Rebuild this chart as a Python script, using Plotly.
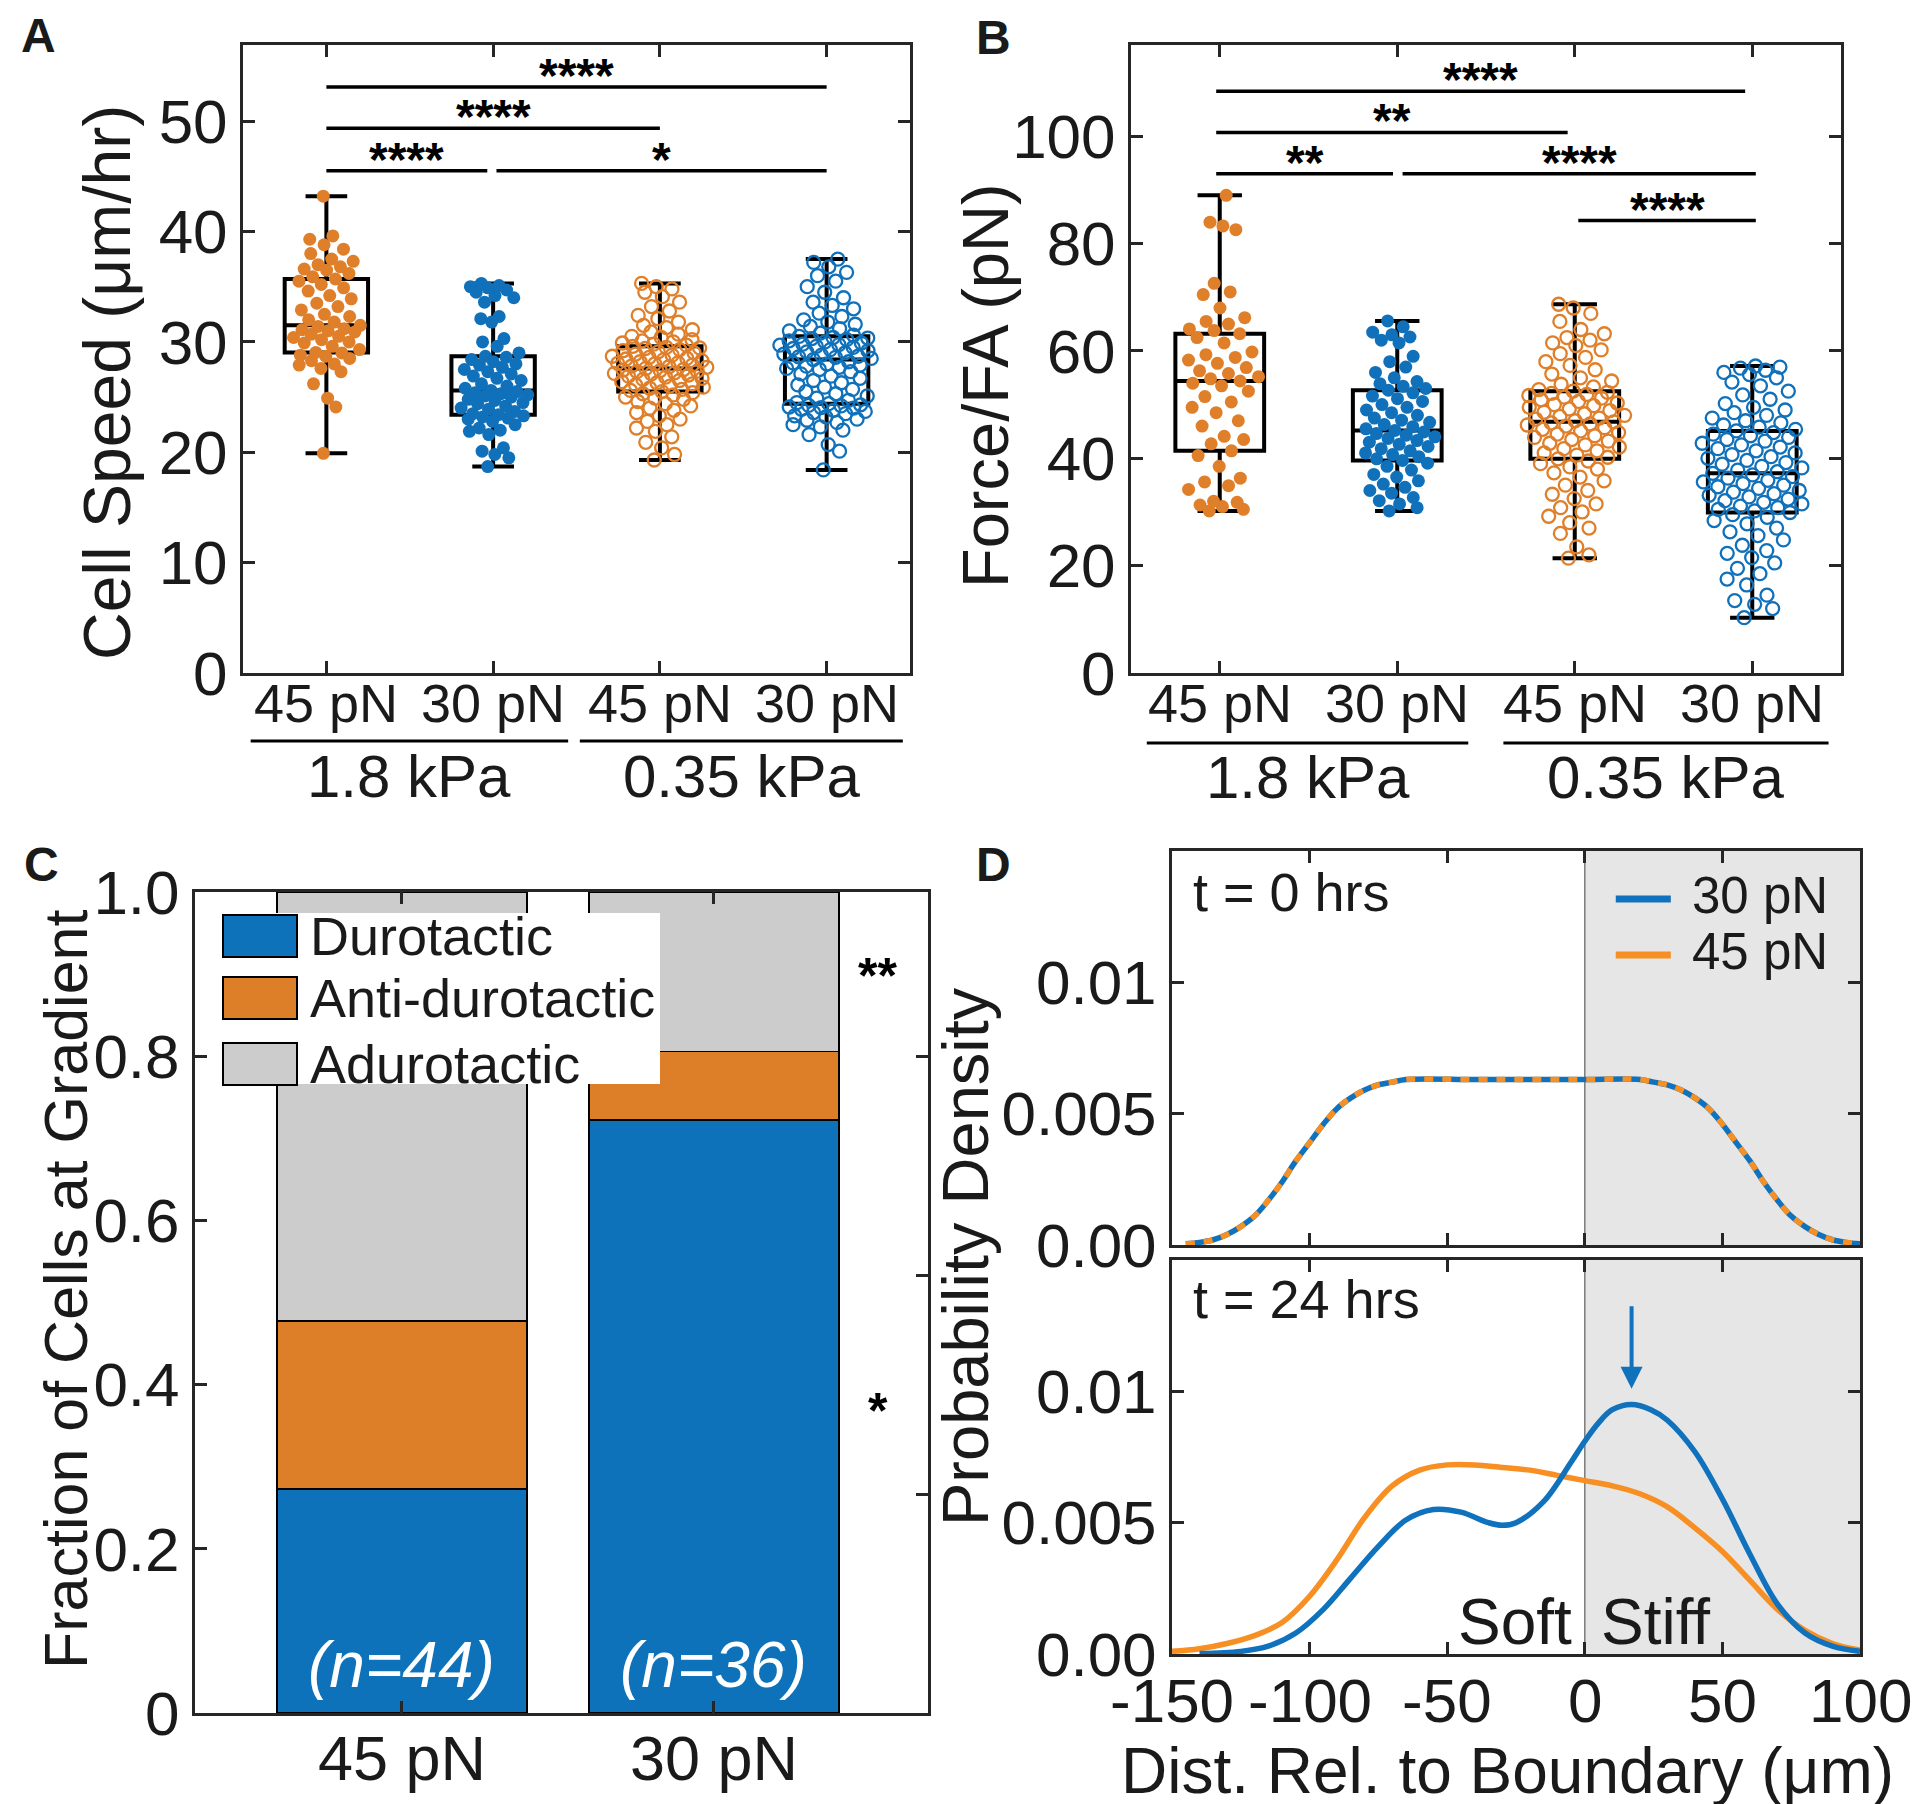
import numpy as np
import plotly.graph_objects as go

W, H = 1920, 1804
FONT = "Liberation Sans, Arial, Helvetica, sans-serif"
INK = "#1a1a1a"
FRAME = "#262626"
ORANGE = "#DF7F2A"
BLUE = "#1071BA"
LINE_ORANGE = "#F78F22"
LINE_BLUE = "#1072BD"
BAR_BLUE = "#0E72BA"
BAR_ORANGE = "#DD7F29"
BAR_GRAY = "#CCCCCC"
STIFF_BG = "#E6E6E6"

# ------------------------------------------------------------------ data
conditions = ["45 pN", "30 pN", "45 pN", "30 pN"]
substrates = ["1.8 kPa", "0.35 kPa"]
condition_colors = [ORANGE, BLUE, ORANGE, BLUE]
condition_filled = [True, True, False, False]

# Panel A: cell speed (um/hr)
speed_18_45 = [19.9, 24.1, 24.9, 26.2, 27.3, 27.6, 27.9, 28.0, 28.3, 28.5, 28.7, 28.8, 29.0, 29.05,
               29.3, 29.6, 29.9, 30.0, 30.2, 30.4, 30.5, 30.7, 30.9, 31.0, 31.1, 31.2, 31.4, 31.5,
               31.8, 32.0, 32.3, 32.5, 32.9, 33.2, 33.5, 33.9, 34.2, 34.6, 34.9, 35.2, 35.5, 35.7,
               35.9, 36.2, 36.5, 36.6, 36.8, 37.0, 37.3, 37.5, 38.0, 38.4, 38.8, 39.3, 39.6, 43.2]
speed_18_30 = [18.7, 19.5, 19.8, 20.1, 20.4, 21.6, 21.9, 22.0, 22.2, 22.5, 22.8, 23.0, 23.1, 23.2, 23.3, 23.4,
               23.5, 23.7, 23.9, 24.0, 24.2, 24.4, 24.5, 24.7, 24.8, 25.0, 25.1, 25.2, 25.3, 25.4, 25.5, 25.6,
               25.8, 26.0, 26.2, 26.5, 26.7, 26.9, 27.1, 27.3, 27.5, 27.7, 27.9, 28.0, 28.2, 28.4, 28.6, 28.7,
               29.0, 29.6, 30.0, 30.3, 31.8, 32.1, 32.3, 33.6, 34.0, 34.2, 34.5, 34.7, 34.9, 35.0, 35.1, 35.3]
speed_035_45 = [19.3, 19.8, 20.4, 20.9, 21.4, 21.9, 22.2, 22.5, 22.8, 23.0, 23.3, 23.6, 23.8, 24.0, 24.2, 24.4,
                24.6, 24.8, 24.9, 25.0, 25.2, 25.3, 25.4, 25.5,
                25.6, 25.7, 25.8, 25.9, 26.0, 26.1, 26.2, 26.3, 26.4, 26.5, 26.6, 26.7, 26.8, 26.9, 27.0, 27.1,
                27.15, 27.2, 27.3, 27.35, 27.4, 27.45, 27.5, 27.6,
                27.7, 27.75, 27.8, 27.9, 28.0, 28.05, 28.1, 28.2, 28.3, 28.4, 28.45, 28.5, 28.6, 28.7, 28.8, 28.9,
                29.0, 29.1, 29.2, 29.3, 29.4, 29.45, 29.5, 29.6,
                29.7, 29.8, 29.9, 30.0, 30.1, 30.2, 30.4, 30.5, 30.7, 30.9, 31.1, 31.3, 31.5, 31.8, 32.1, 32.4,
                32.8, 33.2, 33.6, 34.1, 34.5, 34.8, 35.0, 35.3]
speed_035_30 = [18.4, 20.1, 20.7, 21.6, 22.0, 22.3, 22.5, 22.7, 22.9, 23.0, 23.2, 23.3, 23.5, 23.6, 23.7, 23.8,
                23.9, 24.0, 24.05, 24.1, 24.2, 24.25, 24.3, 24.4,
                24.5, 24.7, 24.9, 25.1, 25.3, 25.5, 25.7, 25.9, 26.1, 26.3, 26.5, 26.7, 26.9, 27.1, 27.3, 27.5,
                27.6, 27.7, 27.8, 27.9, 28.0, 28.1, 28.2, 28.4,
                28.5, 28.6, 28.65, 28.7, 28.8, 28.9, 29.0, 29.1, 29.2, 29.3, 29.4, 29.5, 29.6, 29.7, 29.75, 29.8,
                29.9, 30.0, 30.1, 30.2, 30.3, 30.35, 30.4, 30.5,
                30.6, 30.8, 31.0, 31.2, 31.4, 31.6, 31.8, 32.0, 32.3, 32.6, 33.0, 33.3, 33.6, 34.0, 34.5, 35.0,
                35.5, 36.0, 36.3, 36.8, 37.2, 37.5]
speed_q1 = [29.05, 23.4, 25.5, 24.4]
speed_median = [31.5, 25.6, 27.6, 28.4]
speed_q3 = [35.7, 28.7, 29.6, 30.5]
speed_min = [19.9, 18.7, 19.3, 18.4]
speed_max = [43.2, 35.3, 35.3, 37.5]
speed_sig = [(1, 4, 53.1, "****"), (1, 3, 49.35, "****"), (1, 1.965, 45.5, "****"), (2.02, 4, 45.5, "*")]

# Panel B: force per focal adhesion (pN)
force_18_45 = [30.2, 30.5, 31.0, 31.3, 31.8, 32.0, 34.2, 34.9, 35.6, 36.3, 38.5, 40.5, 41.4,
               42.7, 43.5, 44.1, 46.0, 47.0, 48.5, 49.5, 50.5, 51.5, 52.5, 53.5, 54.0, 54.4,
               54.8, 55.2, 55.8, 56.3, 56.9, 57.7, 58.3, 58.8, 59.3, 59.8, 61.5, 62.5, 63.2,
               63.8, 64.1, 65.0, 65.5, 66.2, 68.0, 70.5, 71.0, 72.6, 82.6, 83.3, 84.0, 89.0]
force_18_30 = [30.2, 30.8, 31.5, 32.1, 32.7, 33.5, 34.0, 34.6, 35.2, 35.8, 36.5, 37.0, 37.8, 38.5, 39.1, 39.6,
               39.9, 40.3, 40.7, 41.0, 41.4, 41.8, 42.2, 42.6, 43.0, 43.3, 43.7, 44.0, 44.3, 44.6, 44.9, 45.2,
               45.5, 45.9, 46.3, 46.7, 47.1, 47.5, 48.0, 48.5, 49.0, 49.5, 50.0, 50.6, 51.1, 51.6, 52.2, 52.7,
               53.0, 53.4, 53.9, 54.3, 55.0, 56.0, 57.0, 58.0, 59.0, 61.5, 62.0, 62.6, 63.0, 63.5, 64.5, 65.6]
force_035_45 = [21.4, 22.0, 23.5, 26.0, 27.0, 28.0, 29.2, 30.0, 30.8, 31.5, 32.5, 33.3, 34.0, 35.0, 35.8, 36.5,
                37.3, 38.0, 38.4, 39.0, 39.5, 39.9,
                40.2, 40.6, 41.0, 41.4, 41.8, 42.1, 42.5, 42.8, 43.2, 43.5, 43.9, 44.2, 44.5, 44.8, 45.1, 45.4,
                45.7, 46.0, 46.2, 46.4, 46.6, 46.8,
                47.0, 47.3, 47.5, 47.8, 48.0, 48.3, 48.6, 48.9, 49.2, 49.5, 49.8, 50.0, 50.3, 50.6, 50.9, 51.2,
                51.4, 51.7, 51.9, 52.1, 52.3, 52.5,
                52.8, 53.3, 53.8, 54.4, 55.0, 55.7, 56.5, 57.3, 58.0, 58.8, 59.5, 60.2, 61.0, 61.5, 62.0, 62.5,
                63.2, 64.0, 65.5, 67.0, 68.0, 68.7]
force_035_30 = [10.3, 12.0, 12.8, 13.5, 14.5, 16.4, 17.5, 18.5, 19.5, 20.5, 21.5, 22.3, 22.8, 23.8, 24.8, 25.6,
                26.3, 27.0, 27.8, 28.4, 29.0, 29.5, 29.9,
                30.2, 30.5, 30.8, 31.1, 31.5, 31.8, 32.1, 32.4, 32.8, 33.1, 33.4, 33.7, 34.0, 34.4, 34.7, 35.0,
                35.3, 35.6, 35.9, 36.3, 36.6, 36.9, 37.2,
                37.5, 37.8, 38.2, 38.5, 38.9, 39.2, 39.6, 40.0, 40.3, 40.7, 41.0, 41.4, 41.8, 42.1, 42.5, 42.8,
                43.2, 43.5, 43.9, 44.2, 44.5, 44.8, 45.1,
                45.4, 45.8, 46.2, 46.6, 47.0, 47.5, 48.0, 48.5, 49.0, 49.5, 50.2, 51.0, 51.8, 52.5, 53.5, 54.2,
                55.0, 55.6, 56.0, 56.4, 56.8, 57.0, 57.2]
force_q1 = [41.4, 39.6, 39.9, 29.9]
force_median = [54.4, 45.2, 46.8, 37.2]
force_q3 = [63.2, 52.7, 52.5, 45.1]
force_min = [30.2, 30.2, 21.4, 10.3]
force_max = [89.0, 65.6, 68.7, 57.2]
force_sig = [(0.98, 3.96, 108.4, "****"), (0.98, 2.96, 100.7, "**"), (0.98, 1.976, 93.0, "**"),
             (2.03, 4.02, 93.0, "****"), (3.02, 4.02, 84.3, "****")]

# Panel C: migration phenotype at the gradient
gradient_groups = ["45 pN", "30 pN"]
n_cells = [44, 36]
durotactic_counts = [12, 26]
antidurotactic_counts = [9, 3]
adurotactic_counts = [23, 7]
phenotype_sig = [("**", 0.91), ("*", 0.38)]

# Panel D: probability density of cell position
dist_t0 = [-145, -140, -135, -130, -125, -120, -115, -110, -105, -100, -95, -90, -85, -80, -75, -70, -65,
           -40, -20, 0, 20, 25, 30, 35, 40, 45, 50, 55, 60, 65, 70, 75, 80, 85, 90, 95, 100]
dens_t0 = [0.00005, 0.0001, 0.0002, 0.0004, 0.0007, 0.0011, 0.0017, 0.0024, 0.0032, 0.0039, 0.0046, 0.0052,
           0.0056, 0.0059, 0.0061, 0.0062, 0.0063, 0.0063, 0.0063, 0.0063, 0.0063, 0.0062, 0.0061, 0.0059,
           0.0056, 0.0052, 0.0046, 0.0039, 0.0032, 0.0024, 0.0017, 0.0011, 0.0007, 0.0004, 0.0002, 0.0001,
           0.00005]
dist_30_t24 = [-140, -125, -115, -105, -95, -85, -75, -65, -55, -45, -35, -30, -25, -15, -5, 0, 5, 10, 17,
               24, 30, 40, 50, 60, 70, 80, 90, 100]
dens_30_t24 = [0.00002, 0.0001, 0.0003, 0.0008, 0.0017, 0.0029, 0.0041, 0.0051, 0.0055, 0.0054, 0.0050,
               0.0049, 0.0050, 0.0058, 0.0073, 0.0081, 0.0088, 0.0093, 0.0095, 0.0093, 0.0089, 0.0077,
               0.0059, 0.0038, 0.0019, 0.0008, 0.0003, 0.0001]
dist_45_t24 = [-150, -140, -130, -120, -110, -100, -90, -80, -70, -60, -50, -40, -30, -20, -10, 0, 10, 20,
               30, 40, 50, 60, 70, 80, 90, 100]
dens_45_t24 = [0.0001, 0.0002, 0.0004, 0.0007, 0.0012, 0.0022, 0.0036, 0.0052, 0.0064, 0.0070, 0.0072,
               0.0072, 0.0071, 0.0070, 0.0068, 0.0066, 0.0064, 0.0061, 0.0056, 0.0048, 0.0039, 0.0028,
               0.0017, 0.0009, 0.0004, 0.00015]
stiff_region = [0, 100]
dist_ticks = [-150, -100, -50, 0, 50, 100]


# ------------------------------------------------------------------ helpers
def fx(p):
    return p / W


def fy(p):
    return 1 - p / H


def jitter(vals, amp):
    v = np.asarray(vals, float)
    n = len(v)
    w = (v.max() - v.min()) / 12.0
    dens = np.array([np.sum(np.abs(v - vi) < w) for vi in v], float)
    dens = dens / dens.max()
    u = ((np.arange(n) * 0.6180339887 + 0.31) % 1.0) * 2 - 1
    return amp * np.sqrt(dens) * u


NUM_FONT = dict(family=FONT, size=62, color=INK)


def frame_axis(**kw):
    d = dict(showline=True, linecolor=FRAME, linewidth=3, mirror="ticks", ticks="inside",
             ticklen=12, tickwidth=2.5, tickcolor=FRAME, showgrid=False, zeroline=False,
             tickfont=NUM_FONT, fixedrange=True, automargin=False)
    d.update(kw)
    return d


fig = go.Figure()
annotations = []
shapes = []


def x_labels(xa, vals, texts, ycenter, size):
    # x tick labels drawn as text, placed as close to the frame as in the reference
    for v, t in zip(vals, texts):
        annotations.append(dict(x=v, y=fy(ycenter), xref=xa, yref="paper", text=t, showarrow=False,
                                xanchor="center", yanchor="middle",
                                font=dict(family=FONT, size=size, color=INK)))


def box_panel(xa, ya, sets, q1, med, q3, lo, hi, sig):
    for i, vals in enumerate(sets):
        pos = i + 1
        filled = condition_filled[i]
        amp = 0.22 if filled else 0.30
        xs = pos + jitter(vals, amp)
        if filled:
            mk = dict(symbol="circle", size=13, color=condition_colors[i], line=dict(width=0))
        else:
            mk = dict(symbol="circle-open", size=13, color=condition_colors[i], line=dict(width=2.3))
        fig.add_trace(go.Scatter(x=xs, y=vals, mode="markers", marker=mk, xaxis=xa, yaxis=ya,
                                 showlegend=False, hoverinfo="y"))
    for i in range(len(sets)):
        fig.add_trace(go.Box(x=[i + 1], q1=[q1[i]], median=[med[i]], q3=[q3[i]],
                             lowerfence=[lo[i]], upperfence=[hi[i]], width=0.5, whiskerwidth=0.5,
                             line=dict(color="black", width=4), fillcolor="rgba(0,0,0,0)",
                             boxpoints=False, xaxis=xa, yaxis=ya, showlegend=False))
    for x0, x1, h, lab in sig:
        shapes.append(dict(type="line", xref=xa, yref=ya, x0=x0, x1=x1, y0=h, y1=h,
                           line=dict(color="black", width=3.5)))
        annotations.append(dict(x=(x0 + x1) / 2, y=h, xref=xa, yref=ya, text=f"<b>{lab}</b>", showarrow=False,
                                yanchor="bottom", yshift=-17,
                                font=dict(family=FONT, size=48, color="black")))
    x_labels(xa, [1, 2, 3, 4], conditions, 695, 54)


# ------------------------------------------------------------------ Panel A
box_panel("x", "y", [speed_18_45, speed_18_30, speed_035_45, speed_035_30],
          speed_q1, speed_median, speed_q3, speed_min, speed_max, speed_sig)
# ------------------------------------------------------------------ Panel B
box_panel("x2", "y2", [force_18_45, force_18_30, force_035_45, force_035_30],
          force_q1, force_median, force_q3, force_min, force_max, force_sig)

# substrate group labels under A and B
for xa, spans, ytop in [("x", [(0.546, 2.45), (2.52, 4.457)], 733),
                        ("x2", [(0.589, 2.40), (2.598, 4.43)], 735)]:
    for (a, b), lab in zip(spans, substrates):
        shapes.append(dict(type="line", xref=xa, yref="paper", x0=a, x1=b, y0=fy(ytop), y1=fy(ytop),
                           line=dict(color="black", width=3)))
        annotations.append(dict(x=(a + b) / 2, y=fy(ytop + 35), xref=xa, yref="paper", text=lab,
                                showarrow=False, yanchor="middle",
                                font=dict(family=FONT, size=60, color=INK)))

# ------------------------------------------------------------------ Panel C
n_arr = np.array(n_cells, float)
for counts, col, name in [(durotactic_counts, BAR_BLUE, "Durotactic"),
                          (antidurotactic_counts, BAR_ORANGE, "Anti-durotactic"),
                          (adurotactic_counts, BAR_GRAY, "Adurotactic")]:
    fig.add_trace(go.Bar(x=[1, 2], y=np.array(counts) / n_arr, width=0.8, name=name,
                         marker=dict(color=col, line=dict(color="black", width=1.6)),
                         xaxis="x3", yaxis="y3", showlegend=False))
# invisible trace carrying the right-hand tick axis
fig.add_trace(go.Scatter(x=[1], y=[0.5], mode="markers", marker=dict(opacity=0), xaxis="x3", yaxis="y6",
                         showlegend=False, hoverinfo="skip"))
for i, n in enumerate(n_cells):
    annotations.append(dict(x=i + 1, y=0.058, xref="x3", yref="y3", text=f"<i>(n={n})</i>",
                            showarrow=False, font=dict(family=FONT, size=64, color="white")))
for lab, yv in phenotype_sig:
    annotations.append(dict(x=2.525, y=yv, xref="x3", yref="y3", text=f"<b>{lab}</b>", showarrow=False,
                            yanchor="middle", yshift=-10, font=dict(family=FONT, size=50, color="black")))
x_labels("x3", [1, 2], gradient_groups, 1750, 63)
# legend (drawn)
shapes.append(dict(type="rect", xref="paper", yref="paper", x0=fx(212), x1=fx(652), y0=fy(1076), y1=fy(905),
                   fillcolor="white", line=dict(width=0), layer="above"))
for (top, bot), col, lab in [((907, 949), BAR_BLUE, "Durotactic"),
                             ((969, 1011), BAR_ORANGE, "Anti-durotactic"),
                             ((1035, 1077), BAR_GRAY, "Adurotactic")]:
    shapes.append(dict(type="rect", xref="paper", yref="paper", x0=fx(215), x1=fx(289), y0=fy(bot), y1=fy(top),
                       fillcolor=col, line=dict(color="black", width=2), layer="above"))
    annotations.append(dict(x=fx(300), y=fy((top + bot) / 2), xref="paper", yref="paper", text=lab,
                            showarrow=False, xanchor="left", yanchor="middle",
                            font=dict(family=FONT, size=54, color=INK)))

# ------------------------------------------------------------------ Panel D
for ya_ref in ["y4", "y5"]:
    xa_ref = "x4" if ya_ref == "y4" else "x5"
    shapes.append(dict(type="rect", xref=xa_ref, yref=ya_ref, x0=stiff_region[0], x1=stiff_region[1],
                       y0=0, y1=0.015, fillcolor=STIFF_BG, line=dict(width=0), layer="below"))
    shapes.append(dict(type="line", xref=xa_ref, yref=ya_ref, x0=stiff_region[0], x1=stiff_region[0],
                       y0=0, y1=0.015, line=dict(color="#7a7a7a", width=1.5), layer="below"))

fig.add_trace(go.Scatter(x=dist_t0, y=dens_t0, mode="lines", line=dict(color=LINE_BLUE, width=5.5, shape="spline"),
                         xaxis="x4", yaxis="y4", showlegend=False))
fig.add_trace(go.Scatter(x=dist_t0, y=dens_t0, mode="lines",
                         line=dict(color=LINE_ORANGE, width=5.5, shape="spline", dash="9px,9px"),
                         xaxis="x4", yaxis="y4", showlegend=False))
fig.add_trace(go.Scatter(x=dist_45_t24, y=dens_45_t24, mode="lines",
                         line=dict(color=LINE_ORANGE, width=5.5, shape="spline"),
                         xaxis="x5", yaxis="y5", showlegend=False))
fig.add_trace(go.Scatter(x=dist_30_t24, y=dens_30_t24, mode="lines",
                         line=dict(color=LINE_BLUE, width=5.5, shape="spline"),
                         xaxis="x5", yaxis="y5", showlegend=False))
x_labels("x5", dist_ticks, [str(t) for t in dist_ticks], 1692, 62)

peak_i = int(np.argmax(dens_30_t24))
annotations.append(dict(x=dist_30_t24[peak_i], y=dens_30_t24[peak_i] + 0.0006, ax=dist_30_t24[peak_i],
                        ay=dens_30_t24[peak_i] + 0.0038, xref="x5", yref="y5", axref="x5", ayref="y5",
                        text="", showarrow=True, arrowhead=2, arrowsize=1.1, arrowwidth=4,
                        arrowcolor=LINE_BLUE))
annotations.append(dict(x=-4, y=0, xref="x5", yref="y5", text="Soft", showarrow=False, xanchor="right",
                        yanchor="bottom", yshift=-6, font=dict(family=FONT, size=64, color=INK)))
annotations.append(dict(x=5, y=0, xref="x5", yref="y5", text="Stiff", showarrow=False, xanchor="left",
                        yanchor="bottom", yshift=-6, font=dict(family=FONT, size=64, color=INK)))
annotations.append(dict(x=0.028, y=0.895, xref="x4 domain", yref="y4 domain", text="t = 0 hrs",
                        showarrow=False, xanchor="left", yanchor="middle",
                        font=dict(family=FONT, size=54, color=INK)))
annotations.append(dict(x=0.028, y=0.902, xref="x5 domain", yref="y5 domain", text="t = 24 hrs",
                        showarrow=False, xanchor="left", yanchor="middle",
                        font=dict(family=FONT, size=54, color=INK)))
for yv, ty, col, lab in [(0.878, 0.888, LINE_BLUE, "30 pN"), (0.736, 0.746, LINE_ORANGE, "45 pN")]:
    shapes.append(dict(type="line", xref="x4 domain", yref="y4 domain", x0=0.645, x1=0.725, y0=yv, y1=yv,
                       line=dict(color=col, width=7)))
    annotations.append(dict(x=0.753, y=ty, xref="x4 domain", yref="y4 domain", text=lab, showarrow=False,
                            xanchor="left", yanchor="middle", font=dict(family=FONT, size=51, color=INK)))

# ------------------------------------------------------------------ titles & panel letters
for txt, cx, cy, fs in [("Cell Speed (μm/hr)", 99, 375, 66), ("Force/FA (pN)", 978, 378, 65),
                        ("Fraction of Cells at Gradient", 58, 1282, 61), ("Probability Density", 957, 1249, 65)]:
    annotations.append(dict(x=fx(cx), y=fy(cy), xref="paper", yref="paper", text=txt, textangle=-90,
                            showarrow=False, xanchor="center", yanchor="middle",
                            font=dict(family=FONT, size=fs, color=INK)))
annotations.append(dict(x=fx(1499), y=fy(1763), xref="paper", yref="paper", text="Dist. Rel. to Boundary (μm)",
                        showarrow=False, xanchor="center", yanchor="middle",
                        font=dict(family=FONT, size=64, color=INK)))
for lab, cx, cy in [("A", 30, 27), ("B", 985, 30), ("C", 33, 856), ("D", 985, 856)]:
    annotations.append(dict(x=fx(cx), y=fy(cy), xref="paper", yref="paper", text=f"<b>{lab}</b>",
                            showarrow=False, xanchor="center", yanchor="middle",
                            font=dict(family=FONT, size=48, color=INK)))

fig.update_layout(
    template="none",
    width=W, height=H, margin=dict(l=0, r=0, t=0, b=0, pad=0, autoexpand=False),
    paper_bgcolor="white", plot_bgcolor="white",
    barmode="stack", boxmode="overlay", showlegend=False, font=dict(family=FONT, color=INK),
    xaxis=frame_axis(domain=[fx(235), fx(902)], range=[0.5, 4.5], tickvals=[1, 2, 3, 4],
                     showticklabels=False, anchor="y"),
    yaxis=frame_axis(domain=[fy(665), fy(37)], range=[0, 56.9], tickvals=[0, 10, 20, 30, 40, 50], anchor="x"),
    xaxis2=frame_axis(domain=[fx(1123), fx(1833)], range=[0.5, 4.5], tickvals=[1, 2, 3, 4],
                      showticklabels=False, anchor="y2"),
    yaxis2=frame_axis(domain=[fy(665), fy(37)], range=[0, 117], tickvals=[0, 20, 40, 60, 80, 100], anchor="x2"),
    xaxis3=frame_axis(domain=[fx(187), fx(920)], range=[0.337, 2.686], tickvals=[1, 2],
                      showticklabels=False, anchor="y3"),
    yaxis3=frame_axis(domain=[fy(1705), fy(884)], range=[0, 1], tickvals=[0, 0.2, 0.4, 0.6, 0.8, 1.0],
                      ticktext=["0", "0.2", "0.4", "0.6", "0.8", "1.0"], mirror=True, anchor="x3"),
    yaxis6=dict(overlaying="y3", side="right", anchor="x3", range=[0, 1], tickvals=[0.2667, 0.5333, 0.8],
                ticks="inside", ticklen=12, tickwidth=2.5, tickcolor=FRAME, showticklabels=False,
                showline=False, showgrid=False, zeroline=False, fixedrange=True, automargin=False),
    xaxis4=frame_axis(domain=[fx(1164), fx(1852)], range=[-150, 100], tickvals=dist_ticks,
                      showticklabels=False, anchor="y4"),
    yaxis4=frame_axis(domain=[fy(1237), fy(843)], range=[0, 0.015], tickvals=[0, 0.005, 0.01],
                      ticktext=["0.00", "0.005", "0.01"], anchor="x4"),
    xaxis5=frame_axis(domain=[fx(1164), fx(1852)], range=[-150, 100], tickvals=dist_ticks,
                      showticklabels=False, anchor="y5"),
    yaxis5=frame_axis(domain=[fy(1646), fy(1252)], range=[0, 0.015], tickvals=[0, 0.005, 0.01],
                      ticktext=["0.00", "0.005", "0.01"], anchor="x5"),
    shapes=shapes, annotations=annotations,
)

fig.write_html("out.html")
